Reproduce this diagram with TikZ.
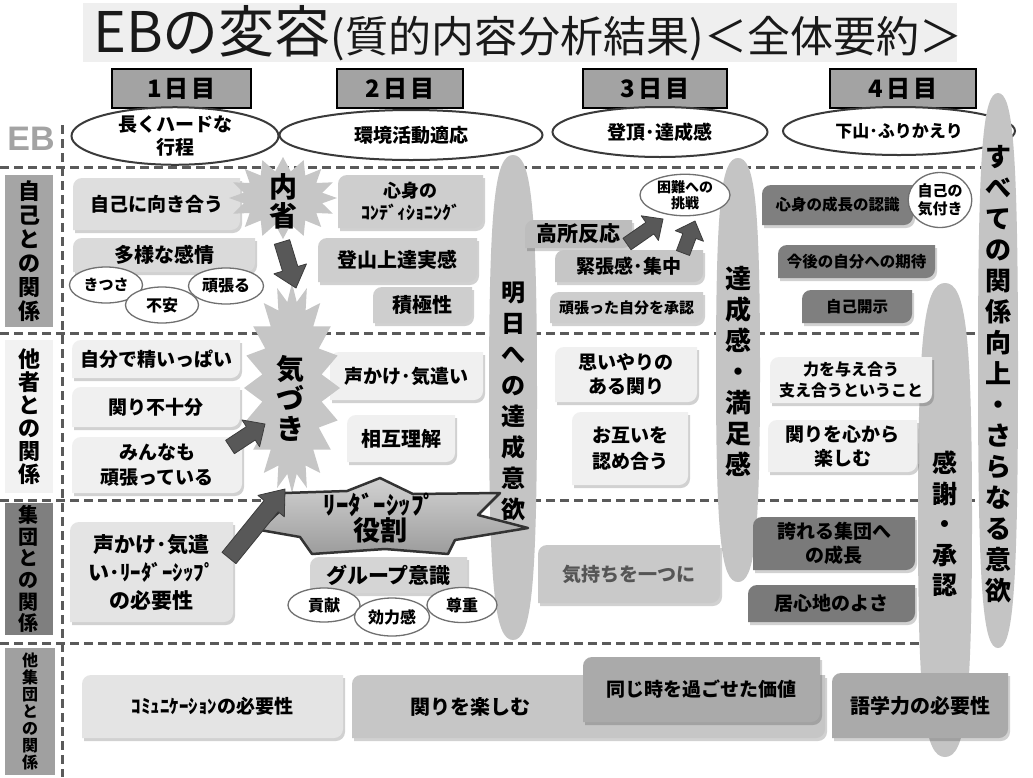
\documentclass[tikz,border=0pt]{standalone}
\usepackage{fontspec}
\setmainfont{Noto Sans CJK JP}
\newfontfamily\ebfont{Liberation Sans}
\usetikzlibrary{shapes.symbols,shapes.geometric,calc}
\newcommand{\fsz}[2]{\fontsize{#1}{#2}\selectfont}
\newcommand{\fsb}[2]{\bfseries\fontsize{#1}{#2}\selectfont}
\definecolor{titlebg}{HTML}{EFEFEF}
\definecolor{dayc}{HTML}{A3A3A3}
\definecolor{ebline}{HTML}{3A3A3A}
\definecolor{smline}{HTML}{707070}
\definecolor{dashc}{HTML}{5A5A5A}
\definecolor{ebgray}{HTML}{A3A3A3}
\definecolor{tallc}{HTML}{C4C4C4}
\definecolor{starc}{HTML}{C6C6C6}
\definecolor{arrowc}{HTML}{585858}
\definecolor{arrowline}{HTML}{3C3C3C}
\definecolor{labA}{HTML}{A5A5A5}
\definecolor{labB}{HTML}{F2F2F2}
\definecolor{labC}{HTML}{7F7F7F}
\definecolor{labD}{HTML}{A0A0A0}
\definecolor{cA}{HTML}{DEDEDE}
\definecolor{cB}{HTML}{DADADA}
\definecolor{cC}{HTML}{CECECE}
\definecolor{cD}{HTML}{BDBDBD}
\definecolor{cE}{HTML}{C6C6C6}
\definecolor{cF}{HTML}{CDCDCD}
\definecolor{dk}{HTML}{7F7F7F}
\definecolor{lt}{HTML}{F0F0F0}
\definecolor{cG}{HTML}{E4E4E4}
\definecolor{cH}{HTML}{D5D5D5}
\definecolor{cI}{HTML}{C9C9C9}
\definecolor{dkb}{HTML}{7A7A7A}
\definecolor{cJ}{HTML}{C6C6C6}
\definecolor{cK}{HTML}{AAAAAA}
\definecolor{greytext}{HTML}{555555}
\definecolor{leadtop}{HTML}{D2D2D2}
\definecolor{leadbot}{HTML}{9C9C9C}
% box with round diagonal corners: x1 y1 x2 y2 r
\newcommand{\rdpath}[5]{(#1,{#2+#5}) .. controls (#1,{#2+0.45*#5}) and ({#1+0.45*#5},#2) .. ({#1+#5},#2) -- (#3,#2) -- (#3,{#4-#5}) .. controls (#3,{#4-0.45*#5}) and ({#3-0.45*#5},#4) .. ({#3-#5},#4) -- (#1,#4) -- cycle}
\newcommand{\dbox}[8][]{%
  \fill[boxshadow] \rdpath{#3+2}{#4+3}{#5+2}{#6+3}{9};
  \fill[#7] \rdpath{#3}{#4}{#5}{#6}{9};
  \node[btext,#1] (#2) at ({(#3+#5)/2},{(#4+#6)/2}) {#8};
}
% tall lens shape: cx top bottom rx
\newcommand{\lens}[4]{%
  \fill[tallc] (#1,#2) .. controls ({#1+0.75*#4},#2) and ({#1+#4},{#2+0.1*(#3-#2)}) .. ({#1+#4},{(#2+#3)/2})
   .. controls ({#1+#4},{#3-0.1*(#3-#2)}) and ({#1+0.75*#4},#3) .. (#1,#3)
   .. controls ({#1-0.75*#4},#3) and ({#1-#4},{#3-0.1*(#3-#2)}) .. ({#1-#4},{(#2+#3)/2})
   .. controls ({#1-#4},{#2+0.1*(#3-#2)}) and ({#1-0.75*#4},#2) .. (#1,#2) -- cycle;
}
% block arrow: from, to, half shaft, half head, head length
\newcommand{\blockarrow}[5]{%
  \coordinate (bam) at ($(#2)!#5!(#1)$);
  \filldraw[arrowst] ($(#1)!#3!90:(#2)$) -- ($(bam)!#3!90:(#2)$) -- ($(bam)!#4!90:(#2)$) -- (#2)
    -- ($(bam)!#4!-90:(#2)$) -- ($(bam)!#3!-90:(#2)$) -- ($(#1)!#3!-90:(#2)$) -- cycle;
}
\begin{document}
\begin{tikzpicture}[x=1pt,y=-1pt,
  dline/.style={draw=dashc, line width=3pt, dash pattern=on 9pt off 5pt},
  daybox/.style={rectangle, draw=black, line width=1.5pt, fill=dayc, inner sep=0pt, font=\fsb{24}{28}},
  ebell/.style={ellipse, draw=ebline, line width=2pt, fill=white, inner sep=0pt, align=center, font=\fsb{19}{23}},
  smell/.style={ellipse, draw=smline, line width=1.3pt, fill=white, inner sep=0pt, align=center, font=\fsb{16}{18}},
  lab/.style={rectangle, inner sep=0pt, align=center, font=\fsb{22}{24}},
  vtext/.style={align=center, inner sep=0pt, text=black},
  btext/.style={align=center, inner sep=0pt, text=black, font=\fsb{19}{23}},
  burst/.style={starburst, random starburst=0, fill=starc, inner sep=0pt},
  arrowst/.style={fill=arrowc, draw=arrowline, line width=0.8pt, line join=round},
  boxshadow/.style={fill=black, opacity=0.18},
  leaderst/.style={top color=leadtop, bottom color=leadbot, draw=black!80, line width=2.5pt, line join=round}]
\useasboundingbox (0,0) rectangle (1033,777);
\fill[white] (0,0) rectangle (1033,777);

% title
\fill[titlebg] (83,3) rectangle (957,62);
\node[anchor=base west, inner sep=0pt, text=black!90] (title) at (93,52) {\fsz{56}{60}EBの変容\fsz{43}{46}(質的内容分析結果)＜全体要約＞};

% day headers
\node[daybox, minimum width=139pt, minimum height=39pt] (d1) at (181.5,88.5) {1\hspace{3pt}日\hspace{3pt}目};
\node[daybox, minimum width=126pt, minimum height=39pt] (d2) at (400,88.5) {2\hspace{3pt}日\hspace{3pt}目};
\node[daybox, minimum width=144pt, minimum height=39pt] (d3) at (655,88.5) {3\hspace{3pt}日\hspace{3pt}目};
\node[daybox, minimum width=146pt, minimum height=39pt] (d4) at (903,88.5) {4\hspace{3pt}日\hspace{3pt}目};

% EB row ellipses
\node[ebell, minimum width=207pt, minimum height=53pt] (e1) at (175,136) {長くハードな\\行程};
\node[ebell, minimum width=263pt, minimum height=50pt] (e2) at (411,135) {環境活動適応};
\node[ebell, minimum width=215pt, minimum height=50pt] (e3) at (660,132) {登頂･達成感};
\node[ebell, minimum width=232pt, minimum height=48pt, font=\fsb{17}{20}] (e4) at (899,131) {下山･ふりかえり};

\node[inner sep=0pt, font=\ebfont\bfseries\fsz{34}{36}, text=ebgray] (eb) at (31,139) {EB};

% dashed grid
\draw[dline] (62,125) -- (62,777);
\draw[dline] (0,167) -- (985,167);
\draw[dline] (0,333) -- (982,333);
\draw[dline] (0,500) -- (982,500);
\draw[dline] (0,643) -- (945,643);

% row labels
\node[lab, fill=labA, minimum width=48pt, minimum height=152pt] (l1) at (29,251) {自\\己\\と\\の\\関\\係};
\node[lab, fill=labB, minimum width=48pt, minimum height=153pt, font=\fsb{22}{23}] (l2) at (29,416.5) {他\\者\\と\\の\\関\\係};
\node[lab, fill=labC, minimum width=48pt, minimum height=132pt, font=\fsb{20}{21.6}] (l3) at (29,569) {集\\団\\と\\の\\関\\係};
\node[lab, fill=labD, minimum width=50pt, minimum height=127pt, font=\fsb{16}{17}] (l4) at (30,711.5) {他\\集\\団\\と\\の\\関\\係};

% tall shapes
\lens{513}{155}{640}{24}
\node[vtext, font=\fsb{24}{31}] (ashita) at (513,401) {明\\日\\へ\\の\\達\\成\\意\\欲};
\lens{738}{158}{582}{22}
\node[vtext, font=\fsb{26}{31}] (tassei) at (738,371) {達\\成\\感\\・\\満\\足\\感};
\lens{945}{283}{757}{27}
\node[vtext, font=\fsb{25}{30.5}] (kansha) at (945,524) {感\\謝\\・\\承\\認};
\lens{998}{93}{648}{20}
\node[vtext, font=\fsb{26}{31}] (subete) at (998,374) {す\\べ\\て\\の\\関\\係\\向\\上\\・\\さ\\ら\\な\\る\\意\\欲};

% row 1 boxes
\dbox{jiko}{73}{178}{240}{230}{cA}{自己に向き合う}
\dbox[font=\fsb{20}{24}]{tayou}{73}{238}{255}{272}{cB}{多様な感情}
\dbox[font=\fsb{18}{22}]{shinshin}{338}{175}{483}{228}{cC}{心身の\\ｺﾝﾃﾞｨｼｮﾆﾝｸﾞ}
\dbox[font=\fsb{20}{24}]{tozan}{318}{238}{477}{282}{cC}{登山上達実感}
\dbox[font=\fsb{20}{24}]{sekkyoku}{373}{287}{472}{323}{cC}{積極性}
\dbox[font=\fsb{21}{24}]{kousho}{525}{220}{632}{248}{cD}{高所反応}
\dbox{kinchou}{555}{250}{703}{282}{cE}{緊張感･集中}
\dbox[font=\fsb{15}{18}]{ganbatta}{550}{292}{703}{323}{cF}{頑張った自分を承認}
\dbox[font=\fsb{15.5}{18}]{seichou}{762}{185}{913}{225}{dk}{心身の成長の認識}
\dbox[font=\fsb{15.5}{18}]{kongo}{778}{245}{935}{278}{dk}{今後の自分への期待}
\dbox[font=\fsb{15.5}{18}]{kaiji}{802}{290}{912}{323}{dk}{自己開示}

% row 2 boxes
\dbox{seiippai}{72}{340}{240}{378}{lt}{自分で精いっぱい}
\dbox{kakawari}{72}{387}{240}{427}{lt}{関り不十分}
\dbox[font=\fsb{19}{25}]{minna}{72}{437}{242}{493}{lt}{みんなも\\頑張っている}
\dbox{koekake}{330}{352}{483}{400}{lt}{声かけ･気遣い}
\dbox[font=\fsb{20}{24}]{sougo}{347}{415}{455}{462}{lt}{相互理解}
\dbox[font=\fsb{19}{24}]{omoiyari}{555}{347}{697}{402}{lt}{思いやりの\\ある関り}
\dbox[font=\fsb{19}{26}]{otagai}{572}{412}{688}{485}{lt}{お互いを\\認め合う}
\dbox[font=\fsb{16}{21}]{chikara}{770}{357}{932}{403}{lt}{力を与え合う\\支え合うということ}
\dbox[font=\fsb{19}{24}]{kokoro}{768}{420}{917}{472}{lt}{関りを心から\\楽しむ}

% row 3 boxes
\dbox[font=\fsb{21}{28}]{koekake2}{70}{522}{233}{622}{cG}{声かけ･気遣\\い･ﾘｰﾀﾞｰｼｯﾌﾟ\\の必要性}
\dbox[font=\fsb{21}{24}]{group}{310}{557}{467}{593}{cH}{グループ意識}
\dbox[text=greytext]{kimochi}{538}{545}{720}{603}{cI}{気持ちを一つに}
\dbox[font=\fsb{19}{24}]{hokoreru}{753}{517}{915}{570}{dkb}{誇れる集団へ\\の成長}
\dbox{igokochi}{748}{585}{915}{622}{dkb}{居心地のよさ}

% row 4 boxes
\dbox{comm}{82}{675}{343}{738}{cG}{ｺﾐｭﾆｹｰｼｮﾝの必要性}
\dbox[font=\fsb{20}{24}, xshift=-118pt]{tanoshimu}{352}{675}{825}{738}{cJ}{関りを楽しむ}
\dbox{onaji}{583}{657}{820}{722}{cK}{同じ時を過ごせた価値}
\dbox[font=\fsb{20}{24}]{gogaku}{832}{673}{1008}{738}{cK}{語学力の必要性}

% small ellipses
\node[smell, minimum width=73pt, minimum height=36pt, font=\fsb{15}{18}] (kitsusa) at (106,285) {きつさ};
\node[smell, minimum width=73pt, minimum height=36pt] (fuan) at (162,305) {不安};
\node[smell, minimum width=75pt, minimum height=36pt] (ganbaru) at (226,286) {頑張る};
\node[smell, minimum width=72pt, minimum height=34pt] (kouken) at (324,605) {貢献};
\node[smell, minimum width=75pt, minimum height=38pt] (kouryoku) at (392,617) {効力感};
\node[smell, minimum width=70pt, minimum height=35pt] (sonchou) at (462,605) {尊重};
\node[smell, minimum width=90pt, minimum height=40pt, font=\fsb{14}{16}] (konnan) at (685,195) {困難への\\挑戦};
\node[smell, minimum width=60pt, minimum height=55pt, font=\fsb{15}{18}] (kizukiB) at (940,200) {自己の\\気付き};

% bursts
\node[burst, starburst points=16, starburst point height=14pt, minimum width=108pt, minimum height=82pt] (naisei) at (283,198) {};
\node[vtext, font=\fsb{28}{29}] (naiseit) at (283,201) {内\\省};
\node[burst, starburst points=20, starburst point height=18pt, minimum width=96pt, minimum height=210pt] (kizuki) at (292,388) {};
\node[vtext, font=\fsb{28}{30}] (kizukit) at (290,398) {気\\づ\\き};

% leadership shape
\filldraw[leaderst] (380,478) -- (413,494) -- (500,493) -- (478,515) -- (528,528) -- (455,540) -- (448,554) -- (385,549) -- (312,554) -- (300,537) -- (260,530) -- (283,508) -- (284,493) -- (347,491) -- cycle;
\node[vtext] (leader) at (380,518) {\fsb{25}{29}ﾘｰﾀﾞｰｼｯﾌﾟ\\\fsb{27}{29}役割};

% block arrows
\coordinate (a1s) at (282,242); \coordinate (a1e) at (296,288);
\blockarrow{a1s}{a1e}{8pt}{17pt}{20pt}
\coordinate (a2s) at (230,447); \coordinate (a2e) at (265,424);
\blockarrow{a2s}{a2e}{8pt}{16pt}{17pt}
\coordinate (a3s) at (229,558); \coordinate (a3e) at (285,489);
\blockarrow{a3s}{a3e}{9pt}{17pt}{22pt}
\coordinate (a4s) at (627,244); \coordinate (a4e) at (663,219);
\blockarrow{a4s}{a4e}{7pt}{15pt}{16pt}
\coordinate (a5s) at (683,253); \coordinate (a5e) at (695,221);
\blockarrow{a5s}{a5e}{7pt}{15pt}{16pt}
\end{tikzpicture}
\end{document}
